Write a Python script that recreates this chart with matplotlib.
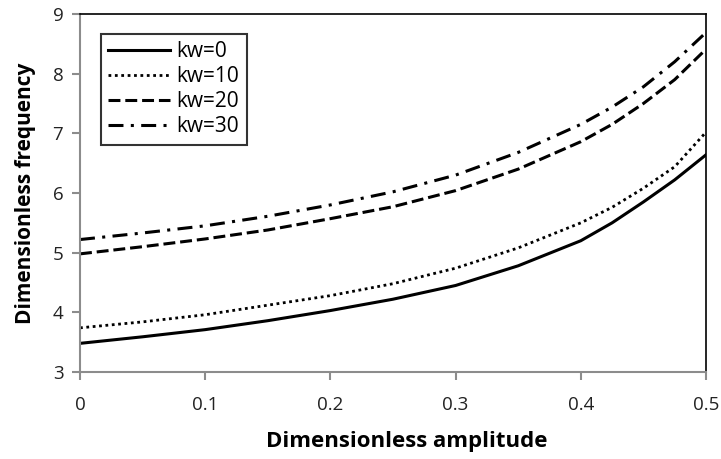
import matplotlib
matplotlib.use("Agg")
import matplotlib.pyplot as plt

plt.rcParams['font.family'] = ['Open Sans', 'DejaVu Sans']

amplitude = [0, 0.05, 0.1, 0.15, 0.2, 0.25, 0.3, 0.35, 0.4, 0.425, 0.45, 0.475, 0.5]
kw0 = [3.48, 3.59, 3.71, 3.86, 4.03, 4.22, 4.45, 4.78, 5.20, 5.50, 5.85, 6.22, 6.64]
kw10 = [3.74, 3.84, 3.96, 4.12, 4.28, 4.48, 4.74, 5.08, 5.50, 5.76, 6.08, 6.44, 7.02]
kw20 = [4.98, 5.10, 5.23, 5.38, 5.57, 5.77, 6.04, 6.40, 6.86, 7.15, 7.50, 7.90, 8.41]
kw30 = [5.22, 5.33, 5.45, 5.61, 5.80, 6.02, 6.30, 6.68, 7.15, 7.44, 7.78, 8.20, 8.69]
labels = ["kw=0", "kw=10", "kw=20", "kw=30"]
xticks = [0, 0.1, 0.2, 0.3, 0.4, 0.5]
xticklabels = ["0", "0.1", "0.2", "0.3", "0.4", "0.5"]
yticks = [3, 4, 5, 6, 7, 8, 9]

fig = plt.figure(figsize=(7.21, 4.59), dpi=100)
ax = fig.add_axes([80/721, 1-372/459, (706-80)/721, (372-14)/459])

lw = 2.2
ax.plot(amplitude, kw0, color='black', lw=lw, linestyle='-', label=labels[0])
ax.plot(amplitude, kw10, color='black', lw=2.0, linestyle=(0, (1.0, 1.3)), label=labels[1])
ax.plot(amplitude, kw20, color='black', lw=lw, linestyle=(0, (3.9, 1.6)), label=labels[2])
ax.plot(amplitude, kw30, color='black', lw=lw, linestyle=(0, (4.9, 2.4, 1.0, 2.4)), label=labels[3])

ax.set_xlim(0, 0.5)
ax.set_ylim(3, 9)
ax.set_xticks(xticks)
ax.set_xticklabels(xticklabels)
ax.set_yticks(yticks)

gray = '#8c8c8c'
for s in ['left', 'bottom']:
    ax.spines[s].set_color(gray)
    ax.spines[s].set_linewidth(1.5)
for s in ['top', 'right']:
    ax.spines[s].set_color('black')
    ax.spines[s].set_linewidth(1.2)
ax.tick_params(axis='both', direction='out', length=6, width=1.5, color=gray,
               labelsize=13.5, labelcolor='#222222', pad=6)
ax.tick_params(axis='x', pad=11)

ax.set_xlabel("Dimensionless amplitude", fontsize=16, fontweight='bold')
ax.xaxis.set_label_coords(0.522, -0.165)
ax.set_ylabel("Dimensionless frequency", fontsize=15, fontweight='bold', labelpad=12)

leg = ax.legend(loc='upper left', bbox_to_anchor=(0.033, 0.945), fontsize=15,
                frameon=True, fancybox=False, edgecolor='black', handlelength=3.0,
                handletextpad=0.3, borderpad=0.35, labelspacing=0.2, borderaxespad=0)
leg.get_frame().set_linewidth(1.5)

fig.savefig("out.png", dpi=100)
